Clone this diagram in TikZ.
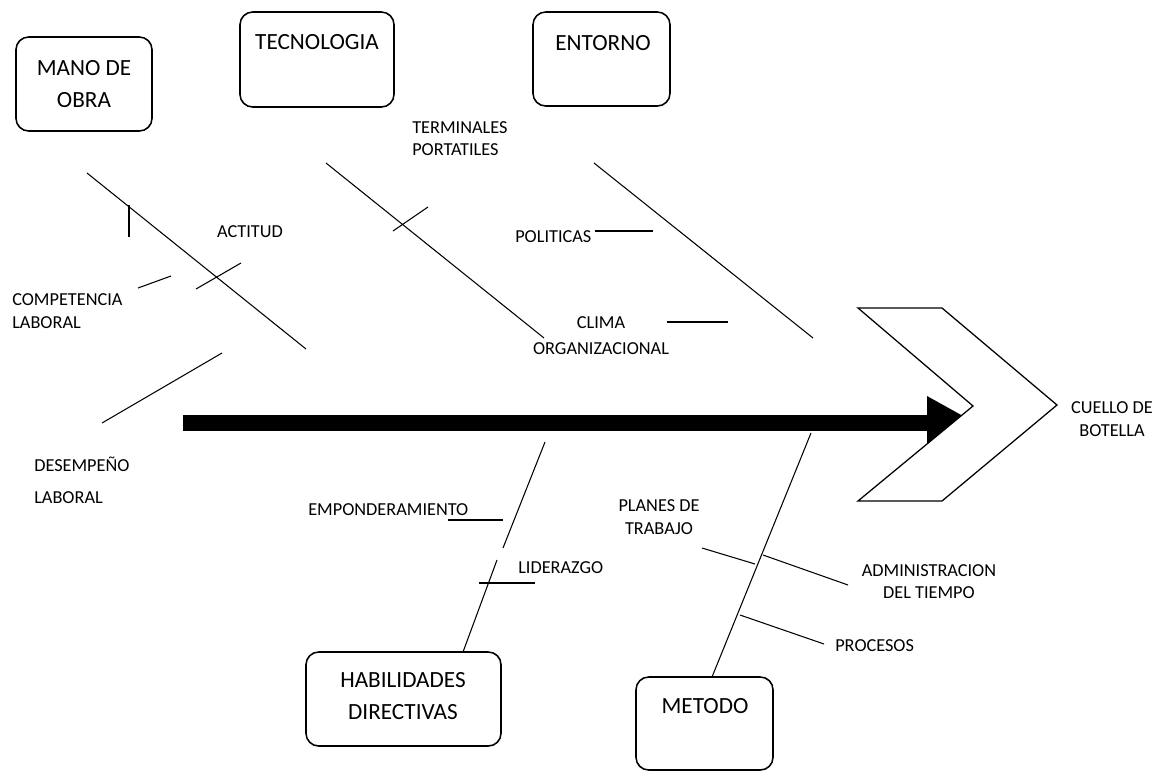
\documentclass[tikz,border=0pt]{standalone}
\usepackage{fontspec}
\setmainfont{Carlito}
\newcommand{\causebox}[4]{
    \draw[line width=1.1pt, rounded corners=9pt] (#1, #2) rectangle (#3, #4);
}

\begin{document}
\begin{tikzpicture}[x=0.025cm, y=-0.025cm,
    bone/.style={line width=0.75pt},
    small/.style={inner sep=0pt, font=\fontsize{13pt}{16pt}\selectfont},
    big/.style={inner sep=0pt, align=center, font=\fontsize{16.5pt}{23.4pt}\selectfont}]

\useasboundingbox (0,0) rectangle (1166,771);

% Cause boxes
\causebox{16}{37}{152}{131}
\causebox{240}{12}{394}{107}
\causebox{533}{12}{670}{106}
\causebox{306}{652}{501}{746}
\causebox{636}{677}{773}{770}

\node[big] (mano) at (84,84) {MANO DE\\OBRA};
\node[big] (tecno) at (317,42) {TECNOLOGIA};
\node[big] (entorno) at (603,43) {ENTORNO};
\node[big] (habil) at (403,696) {HABILIDADES\\DIRECTIVAS};
\node[big] (metodo) at (705,706) {METODO};

% Spine
\draw[line width=12pt] (183,423) -- (930,423);
\fill (927,396) -- (972,421) -- (927,446) -- cycle;

% Head
\draw[line width=0.9pt, fill=white] (858,308) -- (942,308) -- (1057,405)
    -- (942,501) -- (858,501) -- (973,406) -- cycle;
\node[small, align=center] (cuello) at (1112,419) {CUELLO DE\\BOTELLA};

% Mano de obra
\coordinate (m1) at (87,173);
\coordinate (m2) at (306,349);
\draw[bone] (m1) -- (m2);
\draw[line width=2pt] (129,205) -- (129,237);
\draw[bone] (196,289) -- (241,263);
\draw[bone] (138,288) -- (171,276);
\draw[bone] (102,423) -- (222,353);
\node[small] (actitud) at (250,232) {ACTITUD};
\node[small, anchor=west, align=left] (compet) at (12,311) {COMPETENCIA\\LABORAL};
\node[small, anchor=west, align=left, font=\fontsize{13pt}{22.7pt}\selectfont] (desemp) at (34,480) {DESEMPEÑO\\LABORAL};

% Tecnologia
\coordinate (t1) at (326,163);
\coordinate (t2) at (544,338);
\draw[bone] (t1) -- (t2);
\draw[bone] (393,231) -- (428,207);
\node[small, anchor=west, align=left] (termin) at (412,138.5) {TERMINALES\\PORTATILES};

% Entorno
\coordinate (e1) at (594,163);
\coordinate (e2) at (813,338);
\draw[bone] (e1) -- (e2);
\node[small, anchor=west] (polit) at (515,237) {POLITICAS};
\draw[bone] (595,231) -- (653,231);
\node[small, align=center, font=\fontsize{13pt}{19pt}\selectfont] (clima) at (601,335.5) {CLIMA\\ORGANIZACIONAL};
\draw[bone] (667,322) -- (728,322);

% Habilidades directivas
\coordinate (h1) at (545,442);
\coordinate (h2) at (503,548);
\coordinate (h3) at (497,560);
\coordinate (h4) at (463,652);
\draw[bone] (h1) -- (h2);
\draw[bone] (h3) -- (h4);
\node[small, anchor=west] (empon) at (308,510) {EMPONDERAMIENTO};
\draw[bone] (448,520) -- (503,520);
\node[small, anchor=west] (lider) at (518,568) {LIDERAZGO};
\draw[bone] (479,583) -- (535,583);

% Metodo
\coordinate (d1) at (811,433);
\coordinate (d2) at (712,677);
\draw[bone] (d1) -- (d2);
\node[small, align=center] (planes) at (659,517) {PLANES DE\\TRABAJO};
\draw[bone] (702,548) -- (755,564);
\draw[bone] (763,555) -- (848,585);
\node[small, align=center] (admin) at (929,581.5) {ADMINISTRACION\\DEL TIEMPO};
\draw[bone] (740,615) -- (824,644);
\node[small, anchor=west] (proc) at (835,646) {PROCESOS};

\end{tikzpicture}
\end{document}
